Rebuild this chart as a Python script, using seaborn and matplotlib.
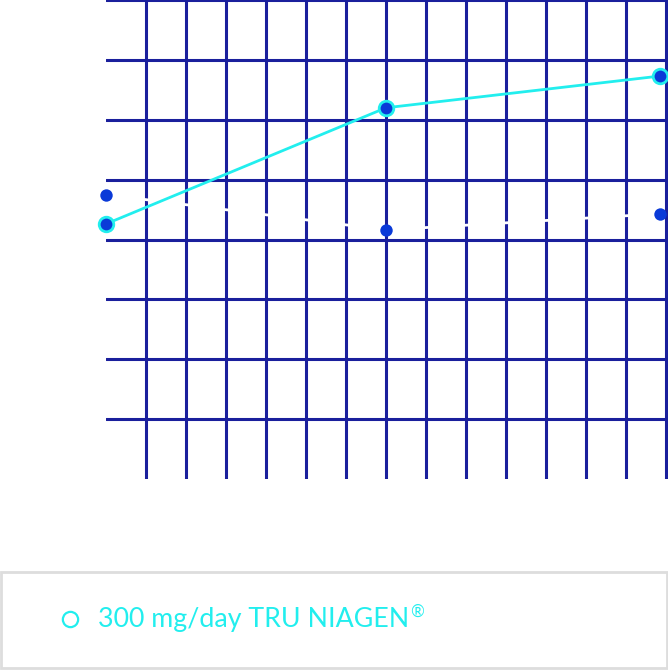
import matplotlib
matplotlib.use("Agg")
import matplotlib.pyplot as plt
import seaborn as sns
import pandas as pd
from matplotlib.patches import Rectangle
from matplotlib.lines import Line2D

# ---- data ----
timepoints = [0, 7, 13.85]
niagen_values = [3.26, 5.20, 5.73]
placebo_values = [3.75, 3.16, 3.43]
legend_label = "300 mg/day TRU NIAGEN"
legend_mark = "®"
x_grid = list(range(1, 15))
y_grid = list(range(0, 8))

sns.set_theme(style="white")
plt.rcParams["font.family"] = ["Lato", "DejaVu Sans"]

NAVY = "#1a1f9c"
CYAN = "#22eeee"
BLUE = "#0a3ad8"

W, H = 668, 670
fig = plt.figure(figsize=(W / 100, H / 100), dpi=100)
ax = fig.add_axes([106 / W, (H - 479) / H, (W - 106) / W, 479 / H])
ax.set_xlim(0, (W - 106) / 40)
ax.set_ylim(-1, 7)

for xv in x_grid:
    ax.axvline(xv, color=NAVY, lw=2.2, zorder=1)
for yv in y_grid:
    ax.axhline(yv, color=NAVY, lw=2.2, zorder=1)

df_n = pd.DataFrame({"t": timepoints, "v": niagen_values})
df_p = pd.DataFrame({"t": timepoints, "v": placebo_values})

sns.lineplot(data=df_p, x="t", y="v", ax=ax, color="white", lw=2, zorder=2)
sns.lineplot(data=df_n, x="t", y="v", ax=ax, color=CYAN, lw=2, zorder=3)
sns.scatterplot(data=df_n, x="t", y="v", ax=ax, color=BLUE, edgecolor=CYAN,
                linewidth=2, s=110, zorder=4, clip_on=False)
sns.scatterplot(data=df_p, x="t", y="v", ax=ax, color=BLUE, edgecolor=BLUE,
                linewidth=0, s=80, zorder=4, clip_on=False)

for coll in ax.collections:
    coll.set_clip_on(False)

ax.set_xticks([])
ax.set_yticks([])
ax.set_xlabel("")
ax.set_ylabel("")
for s in ax.spines.values():
    s.set_visible(False)
ax.patch.set_alpha(0)

# legend box
fig.patches.append(Rectangle((1 / W, (H - 668) / H), (W - 2) / W, (668 - 572) / H,
                             transform=fig.transFigure, fill=False,
                             edgecolor="#dddddd", lw=2))
fig.lines.append(Line2D([70 / W], [(H - 619) / H], transform=fig.transFigure,
                        marker="o", markersize=11, markerfacecolor="white",
                        markeredgecolor=CYAN, markeredgewidth=1.6, linestyle="none"))
txt = fig.text(98 / W, (H - 619) / H, legend_label, color=CYAN, fontsize=16,
               va="center", ha="left")
fig.canvas.draw()
r = fig.canvas.get_renderer()
w = txt.get_window_extent(r).width
fs = 16 * 312 / w
txt.set_fontsize(fs)
fig.canvas.draw()
bb = txt.get_window_extent(r)
fig.text((bb.x1 + 1) / W, (H - 612) / H, legend_mark, color=CYAN,
         fontsize=fs * 0.62, va="center", ha="left")

fig.savefig("out.png", dpi=100)
